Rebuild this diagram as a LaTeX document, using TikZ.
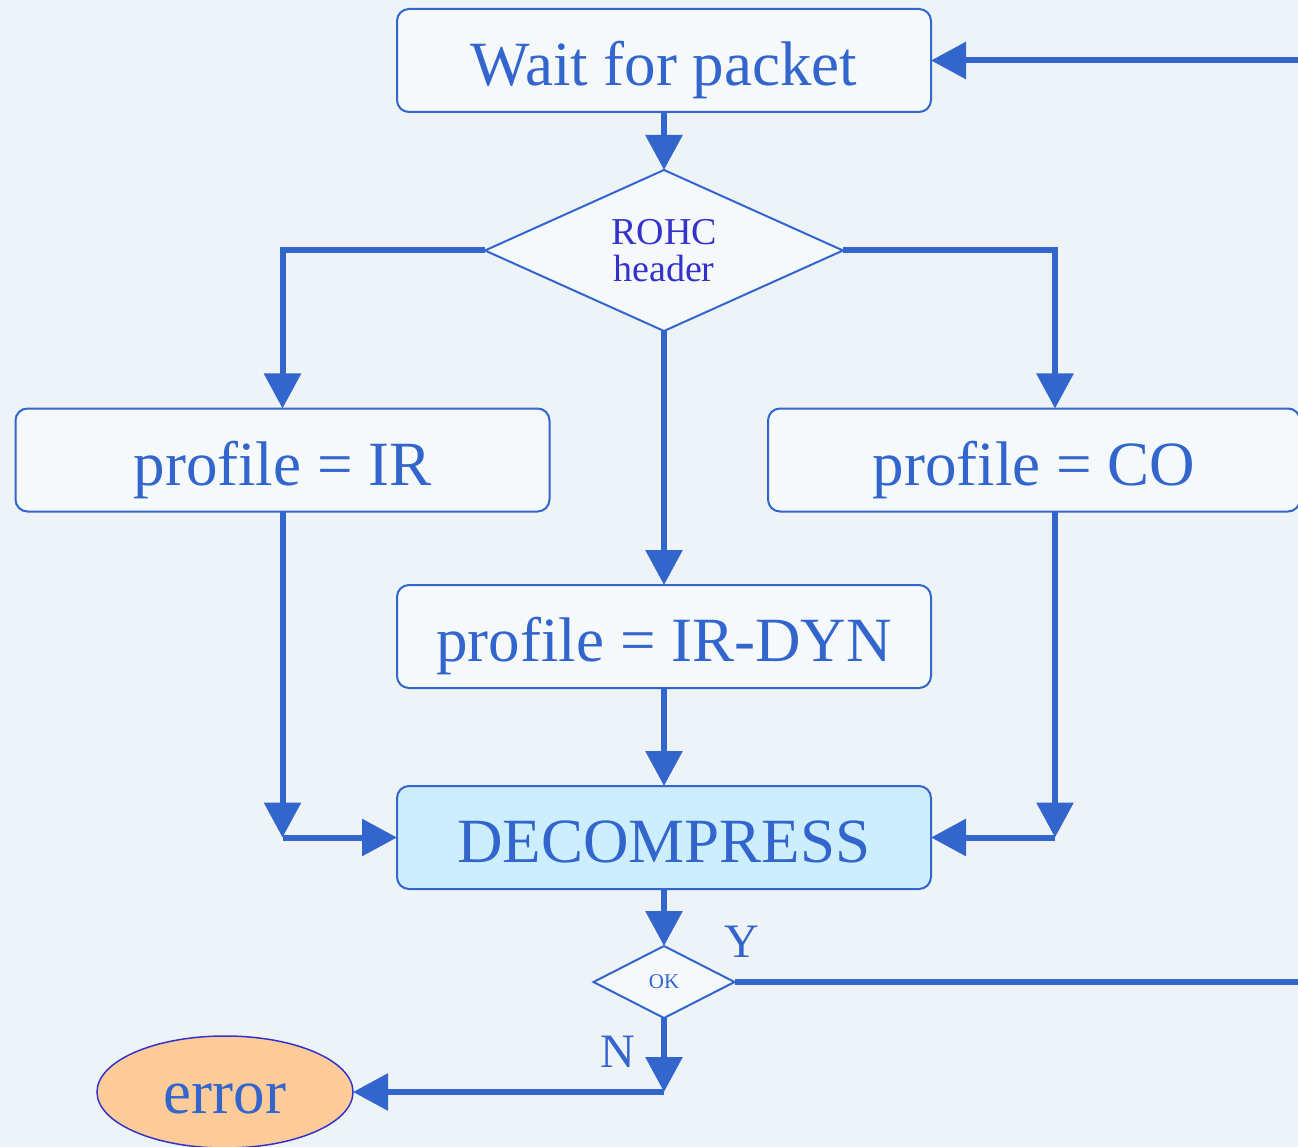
\documentclass[tikz,border=0pt]{standalone}
\usepackage{fontspec}
\setmainfont{Liberation Serif}
\usetikzlibrary{arrows.meta,shapes.geometric,positioning}

\definecolor{flowblue}{HTML}{3366CC}
\definecolor{deepblue}{HTML}{3333CC}
\definecolor{decfill}{HTML}{CCEEFF}
\definecolor{errfill}{HTML}{FFCC99}
\definecolor{bgblue}{HTML}{EEF3F8}
\definecolor{boxfill}{HTML}{F5F9FC}

\begin{document}
\begin{tikzpicture}[x=1pt,y=-1pt,>={Triangle[length=35pt,width=36pt]},
	box/.style={draw=flowblue,line width=2pt,rounded corners=12pt,fill=boxfill,
		minimum width=534pt,minimum height=103pt,inner sep=0pt,outer sep=0pt,
		text=flowblue,text height=50pt,text depth=0pt,
		font=\fontsize{63}{70}\selectfont},
	test/.style={diamond,shape aspect=2,draw=flowblue,line width=2pt,fill=boxfill,
		inner sep=0pt,outer sep=0pt},
	flow/.style={draw=flowblue,line width=6pt},
	tag/.style={text=flowblue,font=\fontsize{48}{48}\selectfont}]

	\fill[bgblue] (0,0) rectangle (1298,1147);
	\useasboundingbox (0,0) rectangle (1298,1147);

	\node[box]          (wait) at (664,60.5)          {Wait for packet};
	\node[test,minimum width=358pt,minimum height=161pt,align=center,text=deepblue,
		font=\fontsize{38}{37}\selectfont] (rohc) [below=58pt of wait] {ROHC\\header};
	\node[box]          (ir)   at (282.5,460)         {profile = IR};
	\node[box,minimum width=532pt] (co) at (1034,460) {profile = CO};
	\node[box]          (dyn)  [below=254pt of rohc]  {profile = IR-DYN};
	\node[box,fill=decfill] (dec) [below=98pt of dyn] {DECOMPRESS};
	\node[test,minimum width=141pt,minimum height=72pt,text=flowblue,
		font=\fontsize{21}{21}\selectfont] (ok) [below=57pt of dec] {OK};
	\node[ellipse,draw=deepblue,line width=1.5pt,fill=errfill,minimum width=256pt,
		minimum height=112pt,outer sep=0pt,text=flowblue,text height=42pt,
		text depth=0pt,font=\fontsize{63}{70}\selectfont]
		(err) at (225,1092) {error};
	\node[tag] (ylab) at (742,942)  {Y};
	\node[tag] (nlab) at (618,1052) {N};

	% turning points
	\coordinate (back)   at ([xshift=620pt]ok.east);
	\coordinate (cotop)  at ([xshift=21pt]co.north);
	\coordinate (cobot)  at ([xshift=21pt]co.south);
	\coordinate (irturn) at (ir.south |- dec.west);
	\coordinate (coturn) at (cobot |- dec.east);
	\coordinate (okturn) at (ok.south |- err.east);

	\draw[flow,->] (wait) -- (rohc);
	\draw[flow,->] (rohc.west) -| (ir.north);
	\draw[flow,->] (rohc.east) -| (cotop);
	\draw[flow,->] (rohc) -- (dyn);
	\draw[flow,->] (dyn) -- (dec);
	\draw[flow,->] (ir.south) -- (irturn);
	\draw[flow,->] (irturn) -- (dec.west);
	\draw[flow,->] (cobot) -- (coturn);
	\draw[flow,->] (coturn) -- (dec.east);
	\draw[flow,->] (dec) -- (ok);
	\draw[flow,->] (ok.south) -- (okturn);
	\draw[flow,->] (okturn) -- (err.east);
	\draw[flow,->] (ok.east) -- (back) |- (wait.east);
\end{tikzpicture}
\end{document}
